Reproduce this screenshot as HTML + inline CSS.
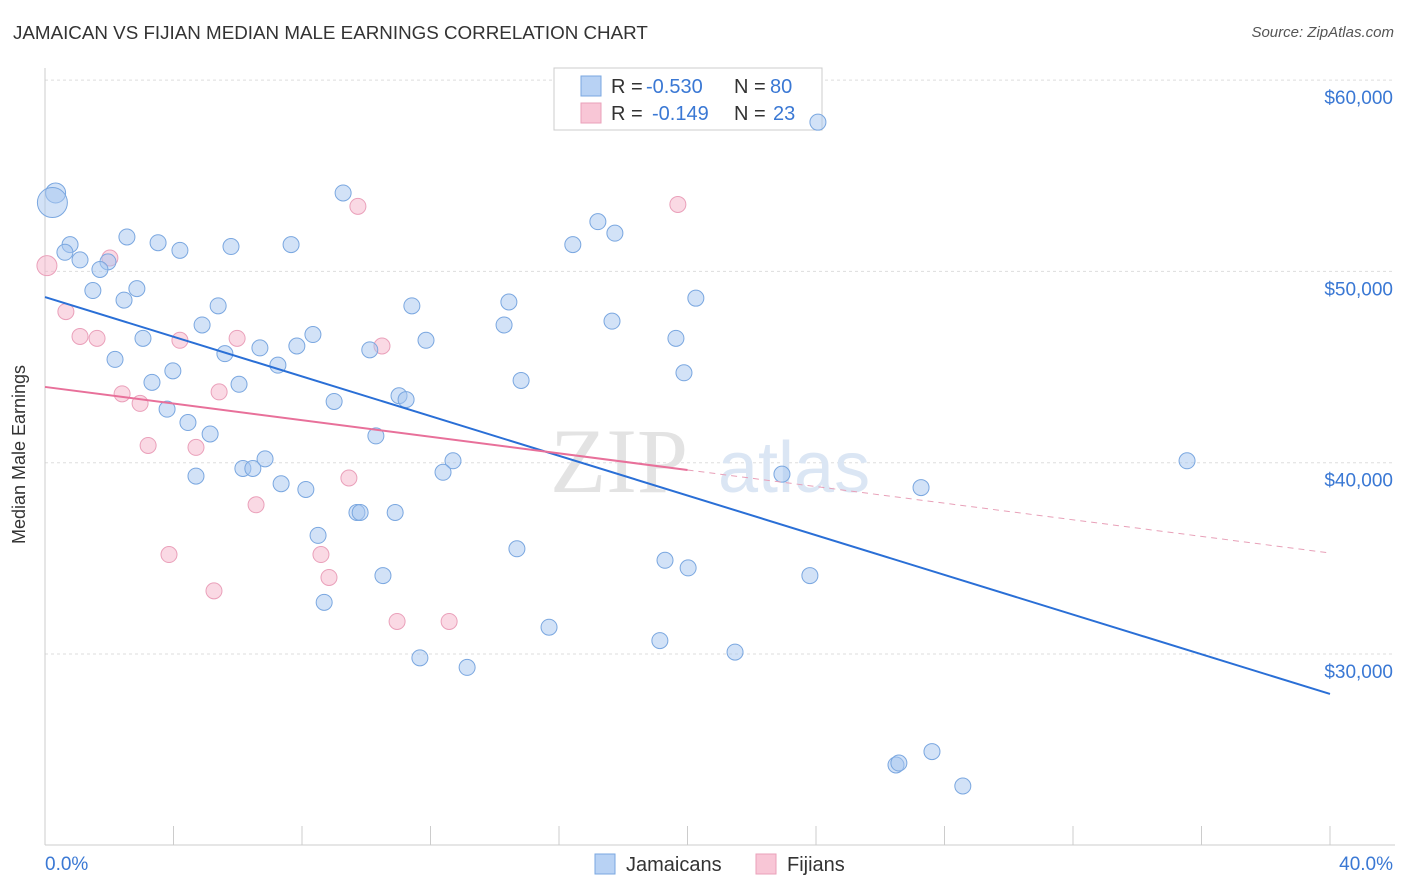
<!DOCTYPE html>
<html><head><meta charset="utf-8">
<style>
body{margin:0;background:#fff;font-family:"Liberation Sans",sans-serif;}
#wrap{position:relative;width:1406px;height:892px;overflow:hidden;}
.t{position:absolute;white-space:nowrap;}
</style></head><body>
<div id="wrap">
<div class="t" style="left:13px;top:22px;font-size:18.8px;color:#333;">JAMAICAN VS FIJIAN MEDIAN MALE EARNINGS CORRELATION CHART</div>
<div class="t" style="right:12px;top:24px;font-size:15px;color:#555;font-style:italic;">Source: ZipAtlas.com</div>
<svg id="svg" width="1406" height="892" style="position:absolute;left:0;top:0;"></svg>
<div class="t" style="left:-70px;top:444px;font-size:18px;color:#333;transform:rotate(-90deg);">Median Male Earnings</div>
</div>
<script>
const blueX=[0.33,0.23,0.78,0.62,1.09,1.96,1.71,2.55,3.52,4.2,5.79,7.66,9.28,24.06,17.21,17.74,16.43,1.49,2.46,2.86,5.39,4.89,3.05,2.18,3.98,3.33,3.8,4.45,5.14,5.6,6.04,6.69,7.25,7.84,8.34,10.11,11.42,11.86,14.44,14.29,17.65,20.26,19.64,19.89,14.82,9.0,11.02,11.24,10.3,4.7,6.16,6.47,6.85,7.35,8.12,9.71,9.81,10.9,12.7,12.39,8.5,8.69,10.52,11.67,13.14,14.69,15.69,19.14,19.3,20.02,21.48,22.94,23.81,27.27,35.55,26.49,26.58,27.61,28.57];
const blueY=[54.1,53.6,51.4,51.0,50.6,50.5,50.1,51.8,51.5,51.1,51.3,51.4,54.1,57.8,52.6,52.0,51.4,49.0,48.5,49.1,48.2,47.2,46.5,45.4,44.8,44.2,42.8,42.1,41.5,45.7,44.1,46.0,45.1,46.1,46.7,45.9,48.2,46.4,48.4,47.2,47.4,48.6,46.5,44.7,44.3,43.2,43.5,43.3,41.4,39.3,39.7,39.7,40.2,38.9,38.6,37.4,37.4,37.4,40.1,39.5,36.2,32.7,34.1,29.8,29.3,35.5,31.4,30.7,34.9,34.5,30.1,39.4,34.1,38.7,40.1,24.2,24.3,24.9,23.1];
const blueR=[10,15,8,8,8,8,8,8,8,8,8,8,8,8,8,8,8,8,8,8,8,8,8,8,8,8,8,8,8,8,8,8,8,8,8,8,8,8,8,8,8,8,8,8,8,8,8,8,8,8,8,8,8,8,8,8,8,8,8,8,8,8,8,8,8,8,8,8,8,8,8,8,8,8,8,8,8,8,8];
const pinkX=[0.06,2.02,0.65,1.09,1.62,4.2,5.98,10.49,9.74,19.7,2.4,2.96,5.42,3.21,4.7,6.57,9.46,8.59,8.84,3.86,5.26,10.96,12.58];
const pinkY=[50.3,50.7,47.9,46.6,46.5,46.4,46.5,46.1,53.4,53.5,43.6,43.1,43.7,40.9,40.8,37.8,39.2,35.2,34.0,35.2,33.3,31.7,31.7];
const blueLine=[48.66,27.91];
const pinkLine=[43.96,35.28];
const yTicks=[30000,40000,50000,60000];
const xTickLabels=["0.0%","40.0%"];

const svg=document.getElementById('svg');
const NS='http://www.w3.org/2000/svg';
const X=v=>45+v/40*1285;
const Y=k=>654-(k-30)*19.13;
function el(tag,attrs,name){const e=document.createElementNS(NS,tag);for(const k in attrs)e.setAttribute(k,attrs[k]);


svg.appendChild(e);return e;}
function lt(x,y,s,c,n){const t=el('text',{x:x,y:y,'font-size':20,fill:c,'font-family':'Liberation Sans'},n);t.textContent=s;}
yTicks.forEach(t=>{const y=Y(t/1000);
el('line',{x1:45,x2:1395,y1:y,y2:y,stroke:'#ddd','stroke-dasharray':'3,3'},'gridline');
const tx=el('text',{x:1393,y:y+24,'text-anchor':'end','font-size':19,fill:'#3a78d4','font-family':'Liberation Sans'},'y-tick-label');
tx.textContent='$'+t.toLocaleString('en-US');});
el('line',{x1:45,x2:45,y1:68,y2:845,stroke:'#ccc'},'y-axis');
el('line',{x1:45,x2:1395,y1:845,y2:845,stroke:'#ccc'},'x-axis');
for(let i=0;i<=10;i++){const x=X(i*4);el('line',{x1:x,x2:x,y1:826,y2:845,stroke:'#ccc'},'x-tick');}
const l0=el('text',{x:45,y:870,'font-size':19,fill:'#3a78d4','font-family':'Liberation Sans'},'x-tick-label');l0.textContent=xTickLabels[0];
const l1=el('text',{x:1393,y:870,'text-anchor':'end','font-size':19,fill:'#3a78d4','font-family':'Liberation Sans'},'x-tick-label');l1.textContent=xTickLabels[1];
const w1=el('text',{x:550,y:492,'font-size':92,fill:'#e3e3e3','font-family':'Liberation Serif'},'watermark-zip');w1.textContent='ZIP';
const w2=el('text',{x:718,y:492,'font-size':72,fill:'#dbe6f4','font-family':'Liberation Sans'},'watermark-atlas');w2.textContent='atlas';
// legend box (under points)
el('rect',{x:554,y:68,width:268,height:62,fill:'#fff',stroke:'#ccc'},'legend-box');
el('rect',{x:581,y:76,width:20,height:20,fill:'#b8d2f4',stroke:'#7aa7e0'},'legend-swatch-blue');
el('rect',{x:581,y:103,width:20,height:20,fill:'#f8c6d6',stroke:'#eaa0ba'},'legend-swatch-pink');
lt(611,93,'R =','#333','legend-r-label');lt(646,93,'-0.530','#3a78d4','legend-r-blue');
lt(734,93,'N =','#333','legend-n-label');lt(770,93,'80','#3a78d4','legend-n-blue');
lt(611,120,'R =','#333','legend-r-label');lt(652,120,'-0.149','#3a78d4','legend-r-pink');
lt(734,120,'N =','#333','legend-n-label');lt(773,120,'23','#3a78d4','legend-n-pink');
pinkX.forEach((x,i)=>el('circle',{cx:X(x),cy:Y(pinkY[i]),r:i==0?10:8,fill:'rgba(246,180,202,0.5)',stroke:'#eaa0ba','stroke-width':1},'fijian-point'));
blueX.forEach((x,i)=>el('circle',{cx:X(x),cy:Y(blueY[i]),r:blueR[i],fill:'rgba(165,198,240,0.5)',stroke:'#7aa7e0','stroke-width':1},'jamaican-point'));
el('line',{x1:X(0),y1:Y(blueLine[0]),x2:X(40),y2:Y(blueLine[1]),stroke:'#2a6fd6','stroke-width':2},'jamaican-trend-line');
const pm=pinkLine[0]+(pinkLine[1]-pinkLine[0])*0.5;
el('line',{x1:X(0),y1:Y(pinkLine[0]),x2:X(20),y2:Y(pm),stroke:'#e8709a','stroke-width':2},'fijian-trend-line');
el('line',{x1:X(20),y1:Y(pm),x2:X(40),y2:Y(pinkLine[1]),stroke:'#e8a0b8','stroke-width':1,'stroke-dasharray':'6,5'},'fijian-trend-dashed');
el('rect',{x:595,y:854,width:20,height:20,fill:'#b8d2f4',stroke:'#7aa7e0'},'bottom-legend-swatch-jamaicans');
lt(626,871,'Jamaicans','#333','bottom-legend-jamaicans');
el('rect',{x:756,y:854,width:20,height:20,fill:'#f8c6d6',stroke:'#eaa0ba'},'bottom-legend-swatch-fijians');
lt(787,871,'Fijians','#333','bottom-legend-fijians');
</script>
</body></html>
